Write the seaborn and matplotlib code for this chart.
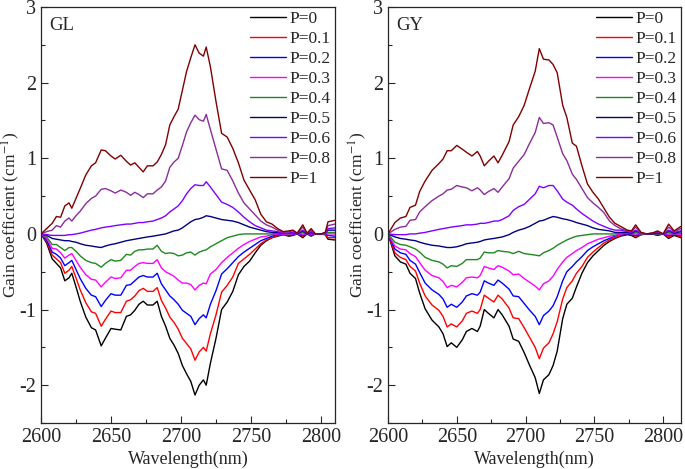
import numpy as np
import pandas as pd
import seaborn as sns
import matplotlib.pyplot as plt
from matplotlib.ticker import MultipleLocator

## Plot style
sns.set_style('ticks')
plt.rcParams['font.family'] = ['Liberation Serif', 'DejaVu Serif']
plt.rcParams['mathtext.fontset'] = 'stix'
plt.rcParams['axes.unicode_minus'] = False
plt.rcParams['font.size'] = 12.5

levels = ['P=0', 'P=0.1', 'P=0.2', 'P=0.3', 'P=0.4', 'P=0.5', 'P=0.6', 'P=0.8', 'P=1']
colors = ['#000000', '#ff0000', '#0000ff', '#ff00ff', '#1e8a1e', '#000080', '#8000ff', '#8b2c9b', '#800000']

## GL panel
gl_x = [2600, 2604, 2608, 2611, 2614, 2617, 2620, 2622, 2625, 2628, 2632, 2636, 2639, 2643, 2646, 2650,
        2653, 2657, 2661, 2664, 2667, 2670, 2673, 2676, 2680, 2683, 2686, 2689, 2692, 2695, 2698, 2701,
        2704, 2707, 2710, 2713, 2716, 2718, 2721, 2725, 2729, 2733, 2737, 2741, 2745, 2749, 2753, 2757,
        2761, 2765, 2769, 2773, 2777, 2780, 2783, 2787, 2790, 2793, 2796, 2800, 2803, 2805, 2810]
gl_p0 = [0, -0.12, -0.33, -0.39, -0.45, -0.62, -0.58, -0.52, -0.70, -0.89, -1.10, -1.24, -1.27, -1.48, -1.38, -1.25,
         -1.26, -1.27, -1.09, -1.07, -1.01, -0.93, -0.89, -0.94, -0.94, -0.89, -1.09, -1.22, -1.38, -1.47, -1.58, -1.74,
         -1.85, -1.95, -2.13, -2.00, -1.93, -2.00, -1.71, -1.38, -1.00, -0.90, -0.76, -0.54, -0.43, -0.36, -0.25, -0.15,
         -0.09, -0.05, -0.03, -0.01, -0.03, -0.02, 0.00, -0.05, 0.00, -0.03, 0.00, 0.00, -0.01, -0.07, -0.08]
gl_p01 = [0, -0.10, -0.28, -0.33, -0.38, -0.52, -0.48, -0.43, -0.58, -0.74, -0.91, -1.03, -1.05, -1.22, -1.13, -1.02,
          -1.04, -1.04, -0.89, -0.87, -0.82, -0.75, -0.72, -0.76, -0.76, -0.71, -0.88, -0.98, -1.10, -1.17, -1.26, -1.38,
          -1.45, -1.52, -1.67, -1.56, -1.50, -1.55, -1.32, -1.07, -0.77, -0.68, -0.57, -0.39, -0.33, -0.27, -0.20, -0.13,
          -0.08, -0.05, -0.02, -0.01, -0.02, -0.01, 0.00, -0.03, 0.00, -0.02, 0.00, 0.00, -0.01, -0.05, -0.05]
gl_p02 = [0, -0.08, -0.24, -0.27, -0.32, -0.42, -0.38, -0.35, -0.47, -0.59, -0.72, -0.81, -0.83, -0.96, -0.88, -0.79,
          -0.81, -0.81, -0.68, -0.67, -0.62, -0.57, -0.55, -0.57, -0.57, -0.52, -0.66, -0.74, -0.82, -0.87, -0.93, -1.01,
          -1.05, -1.09, -1.20, -1.12, -1.07, -1.11, -0.93, -0.75, -0.53, -0.46, -0.38, -0.30, -0.24, -0.19, -0.14, -0.09,
          -0.06, -0.03, -0.01, 0.00, -0.02, -0.01, 0.00, -0.02, 0.00, -0.01, 0.00, 0.00, 0.00, -0.02, -0.03]
gl_p03 = [0, -0.06, -0.19, -0.20, -0.25, -0.32, -0.28, -0.26, -0.35, -0.44, -0.54, -0.60, -0.61, -0.70, -0.64, -0.57,
          -0.59, -0.58, -0.48, -0.48, -0.43, -0.39, -0.38, -0.39, -0.39, -0.34, -0.45, -0.50, -0.53, -0.56, -0.61, -0.65,
          -0.65, -0.67, -0.74, -0.68, -0.65, -0.66, -0.53, -0.47, -0.38, -0.31, -0.25, -0.19, -0.14, -0.10, -0.07, -0.04,
          -0.03, -0.01, 0.00, 0.00, -0.01, 0.00, 0.00, 0.00, 0.00, 0.00, 0.00, 0.00, 0.00, 0.00, 0.00]
gl_p04 = [0, -0.04, -0.14, -0.14, -0.18, -0.22, -0.18, -0.18, -0.23, -0.29, -0.35, -0.38, -0.39, -0.44, -0.39, -0.34,
          -0.36, -0.35, -0.27, -0.28, -0.23, -0.21, -0.21, -0.20, -0.20, -0.15, -0.23, -0.26, -0.25, -0.26, -0.29, -0.28,
          -0.25, -0.24, -0.28, -0.24, -0.22, -0.21, -0.17, -0.13, -0.09, -0.05, -0.03, -0.01, 0.00, 0.00, 0.00, 0.00,
          0.00, 0.00, 0.01, 0.01, 0.00, 0.01, 0.00, 0.02, 0.00, 0.01, 0.00, 0.00, 0.00, 0.02, 0.02]
gl_p05 = [0, -0.02, -0.06, -0.07, -0.08, -0.09, -0.09, -0.10, -0.11, -0.13, -0.15, -0.16, -0.17, -0.18, -0.16, -0.14,
          -0.13, -0.11, -0.09, -0.08, -0.07, -0.06, -0.05, -0.04, -0.03, -0.02, -0.01, 0.00, 0.02, 0.04, 0.05, 0.08,
          0.12, 0.16, 0.19, 0.20, 0.22, 0.24, 0.23, 0.21, 0.19, 0.18, 0.17, 0.15, 0.12, 0.09, 0.07, 0.05,
          0.03, 0.02, 0.02, 0.01, 0.01, 0.02, 0.00, 0.04, 0.00, 0.02, 0.00, 0.00, 0.01, 0.05, 0.05]
gl_p06 = [0, -0.01, -0.02, -0.02, -0.02, -0.02, -0.01, -0.01, 0.00, 0.01, 0.03, 0.05, 0.06, 0.08, 0.09, 0.10,
          0.11, 0.12, 0.13, 0.13, 0.14, 0.15, 0.15, 0.16, 0.17, 0.19, 0.21, 0.24, 0.29, 0.33, 0.37, 0.44,
          0.53, 0.60, 0.65, 0.64, 0.64, 0.69, 0.62, 0.52, 0.42, 0.39, 0.35, 0.29, 0.22, 0.16, 0.11, 0.08,
          0.05, 0.04, 0.03, 0.01, 0.01, 0.02, 0.01, 0.05, 0.01, 0.03, 0.00, 0.00, 0.01, 0.07, 0.08]
gl_p08 = [0, 0.03, 0.05, 0.11, 0.09, 0.17, 0.21, 0.17, 0.24, 0.30, 0.40, 0.47, 0.50, 0.59, 0.60, 0.57,
          0.54, 0.58, 0.55, 0.51, 0.55, 0.52, 0.48, 0.53, 0.53, 0.58, 0.62, 0.70, 0.88, 0.95, 1.00, 1.17,
          1.35, 1.47, 1.57, 1.51, 1.49, 1.58, 1.38, 1.12, 0.86, 0.84, 0.70, 0.54, 0.41, 0.33, 0.25, 0.17,
          0.12, 0.09, 0.05, 0.02, 0.03, 0.04, 0.01, 0.09, 0.01, 0.05, 0.00, 0.00, 0.01, 0.11, 0.13]
gl_p1 = [0, 0.07, 0.14, 0.23, 0.22, 0.37, 0.41, 0.34, 0.47, 0.60, 0.78, 0.90, 0.94, 1.11, 1.10, 1.03,
         0.99, 1.04, 0.96, 0.91, 0.94, 0.88, 0.82, 0.90, 0.90, 0.95, 1.05, 1.18, 1.44, 1.55, 1.65, 1.90,
         2.15, 2.33, 2.50, 2.39, 2.35, 2.47, 2.21, 1.75, 1.33, 1.28, 1.13, 0.94, 0.71, 0.58, 0.45, 0.26,
         0.16, 0.13, 0.07, 0.03, 0.04, 0.05, 0.01, 0.12, 0.01, 0.07, 0.00, 0.00, 0.02, 0.16, 0.18]

## GY panel
gy_x = [2600, 2605, 2609, 2613, 2616, 2620, 2623, 2627, 2632, 2637, 2640, 2643, 2646, 2650, 2654, 2657,
        2661, 2665, 2667, 2670, 2673, 2677, 2680, 2683, 2688, 2691, 2695, 2699, 2703, 2707, 2710, 2713,
        2717, 2720, 2723, 2727, 2730, 2734, 2737, 2741, 2745, 2749, 2753, 2757, 2761, 2765, 2769, 2774,
        2777, 2780, 2784, 2788, 2792, 2796, 2800, 2804, 2808, 2813]
gy_p0 = [0, -0.29, -0.37, -0.40, -0.52, -0.59, -0.78, -0.99, -1.14, -1.23, -1.32, -1.49, -1.44, -1.50, -1.40, -1.29,
         -1.25, -1.29, -1.22, -1.00, -1.05, -1.11, -1.00, -1.07, -1.22, -1.39, -1.42, -1.57, -1.74, -1.90, -2.11, -1.93,
         -1.86, -1.74, -1.55, -1.12, -0.93, -0.85, -0.70, -0.52, -0.38, -0.29, -0.22, -0.15, -0.10, -0.06, -0.03, -0.01,
         -0.02, -0.05, -0.01, 0.00, 0.00, -0.02, 0.00, -0.06, -0.02, -0.05]
gy_p01 = [0, -0.25, -0.31, -0.34, -0.43, -0.49, -0.65, -0.82, -0.94, -1.01, -1.09, -1.23, -1.19, -1.23, -1.15, -1.05,
          -1.02, -1.05, -1.00, -0.81, -0.85, -0.90, -0.81, -0.86, -0.98, -1.11, -1.12, -1.24, -1.37, -1.50, -1.65, -1.51,
          -1.44, -1.32, -1.16, -0.86, -0.71, -0.62, -0.52, -0.43, -0.31, -0.24, -0.18, -0.12, -0.08, -0.05, -0.02, 0.00,
          -0.01, -0.03, -0.01, 0.00, 0.00, -0.01, 0.00, -0.04, -0.01, -0.04]
gy_p02 = [0, -0.20, -0.25, -0.27, -0.35, -0.40, -0.51, -0.65, -0.74, -0.80, -0.86, -0.97, -0.93, -0.97, -0.90, -0.82,
          -0.79, -0.81, -0.77, -0.62, -0.65, -0.68, -0.61, -0.65, -0.73, -0.82, -0.83, -0.92, -1.01, -1.09, -1.20, -1.08,
          -1.02, -0.95, -0.83, -0.62, -0.50, -0.43, -0.37, -0.30, -0.22, -0.17, -0.13, -0.09, -0.06, -0.03, 0.00, 0.00,
          -0.01, -0.02, 0.00, 0.00, 0.00, -0.01, 0.00, -0.02, -0.01, -0.02]
gy_p03 = [0, -0.16, -0.20, -0.21, -0.26, -0.30, -0.38, -0.48, -0.55, -0.58, -0.63, -0.71, -0.68, -0.70, -0.64, -0.58,
          -0.57, -0.58, -0.55, -0.43, -0.45, -0.47, -0.42, -0.44, -0.49, -0.54, -0.53, -0.59, -0.64, -0.69, -0.74, -0.66,
          -0.62, -0.56, -0.47, -0.37, -0.31, -0.26, -0.22, -0.18, -0.13, -0.10, -0.07, -0.05, -0.03, -0.02, 0.00, 0.01,
          0.00, 0.00, 0.00, 0.00, 0.00, 0.00, 0.00, 0.00, 0.00, -0.01]
gy_p04 = [0, -0.11, -0.14, -0.15, -0.17, -0.20, -0.24, -0.31, -0.35, -0.37, -0.40, -0.45, -0.42, -0.43, -0.39, -0.34,
          -0.34, -0.34, -0.32, -0.24, -0.25, -0.25, -0.22, -0.23, -0.24, -0.26, -0.23, -0.26, -0.27, -0.28, -0.29, -0.25,
          -0.22, -0.19, -0.15, -0.11, -0.08, -0.05, -0.03, -0.02, -0.01, 0.00, 0.00, 0.00, 0.00, 0.00, 0.01, 0.01,
          0.00, 0.02, 0.00, 0.00, 0.00, 0.00, 0.00, 0.02, 0.00, 0.01]
gy_p05 = [0, -0.04, -0.06, -0.07, -0.08, -0.09, -0.11, -0.13, -0.15, -0.16, -0.17, -0.18, -0.18, -0.17, -0.15, -0.13,
          -0.12, -0.11, -0.10, -0.08, -0.07, -0.06, -0.05, -0.04, -0.01, 0.02, 0.05, 0.07, 0.10, 0.14, 0.17, 0.18,
          0.21, 0.23, 0.22, 0.20, 0.19, 0.17, 0.15, 0.13, 0.11, 0.08, 0.06, 0.05, 0.04, 0.02, 0.02, 0.02,
          0.01, 0.04, 0.01, 0.00, 0.00, 0.01, 0.00, 0.04, 0.01, 0.03]
gy_p06 = [0, -0.01, -0.01, -0.01, 0.00, 0.00, 0.01, 0.02, 0.04, 0.06, 0.07, 0.08, 0.09, 0.10, 0.11, 0.12,
          0.12, 0.13, 0.14, 0.14, 0.15, 0.17, 0.17, 0.19, 0.24, 0.31, 0.36, 0.39, 0.46, 0.53, 0.63, 0.61,
          0.64, 0.64, 0.57, 0.46, 0.42, 0.38, 0.33, 0.27, 0.22, 0.17, 0.13, 0.10, 0.07, 0.05, 0.05, 0.03,
          0.02, 0.05, 0.01, 0.00, 0.01, 0.02, 0.00, 0.05, 0.02, 0.04]
gy_p08 = [0, 0.06, 0.09, 0.10, 0.18, 0.19, 0.29, 0.36, 0.44, 0.50, 0.53, 0.58, 0.59, 0.64, 0.62, 0.61,
          0.57, 0.61, 0.58, 0.52, 0.56, 0.60, 0.55, 0.62, 0.73, 0.87, 0.96, 1.05, 1.20, 1.34, 1.54, 1.46,
          1.47, 1.44, 1.28, 1.06, 0.97, 0.79, 0.72, 0.60, 0.48, 0.41, 0.35, 0.28, 0.17, 0.11, 0.07, 0.04,
          0.03, 0.09, 0.01, 0.00, 0.01, 0.03, 0.00, 0.09, 0.03, 0.07]
gy_p1 = [0, 0.15, 0.21, 0.23, 0.35, 0.38, 0.56, 0.70, 0.84, 0.93, 0.99, 1.10, 1.10, 1.17, 1.12, 1.08,
         1.03, 1.09, 1.03, 0.90, 0.96, 1.03, 0.94, 1.04, 1.22, 1.44, 1.55, 1.70, 1.93, 2.15, 2.45, 2.31,
         2.30, 2.24, 2.13, 1.70, 1.54, 1.20, 1.16, 0.90, 0.66, 0.55, 0.46, 0.34, 0.22, 0.14, 0.10, 0.05,
         0.04, 0.12, 0.02, 0.00, 0.01, 0.04, 0.00, 0.13, 0.04, 0.10]


def long_df(x, series):
    frames = []
    for lab, vals in zip(levels, series):
        frames.append(pd.DataFrame({'wavelength': x, 'gain': vals, 'P': lab}))
    return pd.concat(frames, ignore_index=True)


gl_df = long_df(gl_x, [gl_p0, gl_p01, gl_p02, gl_p03, gl_p04, gl_p05, gl_p06, gl_p08, gl_p1])
gy_df = long_df(gy_x, [gy_p0, gy_p01, gy_p02, gy_p03, gy_p04, gy_p05, gy_p06, gy_p08, gy_p1])

fig = plt.figure(figsize=(6.85, 4.69), dpi=100)
ax1 = fig.add_axes([41/685, 46/469, 294/685, 416/469])
ax2 = fig.add_axes([388/685, 46/469, 293/685, 416/469])

for ax, df, name, xmax in [(ax1, gl_df, 'GL', 2810), (ax2, gy_df, 'GY', 2813)]:
    sns.lineplot(data=df, x='wavelength', y='gain', hue='P', hue_order=levels, palette=colors,
                 estimator=None, sort=False, linewidth=1.0, ax=ax)
    ax.set_xlim(2600, xmax)
    ax.set_ylim(-2.5, 3)
    ax.xaxis.set_major_locator(MultipleLocator(50))
    ax.xaxis.set_minor_locator(MultipleLocator(25))
    ax.yaxis.set_major_locator(MultipleLocator(1))
    ax.yaxis.set_minor_locator(MultipleLocator(0.5))
    ax.tick_params(which='both', direction='in', labelsize=14.5, width=0.8)
    ax.tick_params(which='major', length=5)
    ax.tick_params(which='minor', length=3)
    for s in ax.spines.values():
        s.set_linewidth(0.9)
    ax.set_xlabel('Wavelength(nm)', fontsize=13, labelpad=3)
    ax.set_ylabel('Gain coefficient (cm$^{-1}$)', fontsize=12.5)
    ax.yaxis.set_label_coords(-0.064, 0.5)
    ax.text(0.027, 0.955, name, transform=ax.transAxes, fontsize=13.5, va='center', ha='left')
    h, l = ax.get_legend_handles_labels()
    ax.legend(h, l, loc='upper right', bbox_to_anchor=(1.0, 1.0), frameon=False, fontsize=12.5,
              handlelength=2.1, handletextpad=0.2, labelspacing=0.22, borderaxespad=0.1, borderpad=0.15)

plt.savefig('out.png', dpi=100)
